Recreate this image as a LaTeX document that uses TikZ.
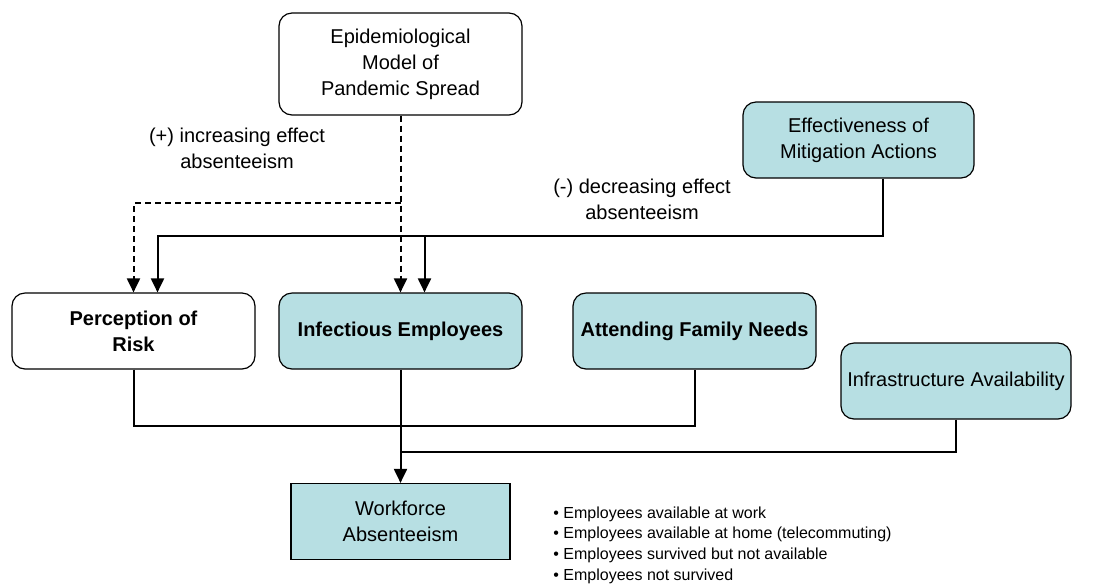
\documentclass[tikz,border=0pt]{standalone}
\usepackage{fontspec}
\setmainfont{Liberation Sans}
\usepackage{xcolor}
\usepackage{tikz}
\usetikzlibrary{arrows.meta}

\definecolor{teal box}{RGB}{183,223,227}

\begin{document}
\begin{tikzpicture}[x=0.5pt,y=0.5pt,yscale=-1,
  basebox/.style={draw, line width=0.6pt, align=center, inner sep=0pt,
    font=\fontsize{10}{13}\selectfont, minimum width=121.5pt, minimum height=38pt},
  roundbox/.style={basebox, rounded corners=6.5pt},
  tealbox/.style={roundbox, fill=teal box},
  feedline/.style={line width=1pt},
  feedarrow/.style={feedline, -{Triangle[width=6.5pt,length=7pt]}},
  spreadline/.style={line width=1pt, dash pattern=on 3pt off 2pt},
  spreadarrow/.style={spreadline, -{Triangle[width=6.5pt,length=7pt]}}]
\useasboundingbox (0,0) rectangle (1100,586);

%Shape: Rounded Rect [id:epid] 
\node[roundbox, minimum height=51pt] (epid) at (400.5,64) {Epidemiological\\Model of\\Pandemic Spread};
%Shape: Rounded Rect [id:effect] 
\node[tealbox, minimum width=115.5pt] (effect) at (858.5,140) {Effectiveness of\\Mitigation Actions};
%Shape: Rounded Rect [id:risk] 
\node[roundbox, font=\fontsize{10}{13}\selectfont\bfseries] (risk) at (133.5,331) {Perception of\\Risk};
%Shape: Rounded Rect [id:infect] 
\node[tealbox, font=\fontsize{10}{13}\selectfont\bfseries] (infect) at (400.5,331) {Infectious Employees};
%Shape: Rounded Rect [id:family] 
\node[tealbox, font=\fontsize{10}{13}\selectfont\bfseries] (family) at (694.5,331) {Attending Family Needs};
%Shape: Rounded Rect [id:infra] 
\node[tealbox, minimum width=115pt] (infra) at (956,381) {Infrastructure Availability};
%Shape: Rectangle [id:work] 
\node[basebox, fill=teal box, minimum width=109.5pt] (work) at (400.5,521.5) {Workforce\\Absenteeism};

% Text Node
\node[font=\fontsize{10}{13}\selectfont, align=center] (poslabel) at (237,148) {(+) increasing effect\\absenteeism};
% Text Node
\node[font=\fontsize{10}{13}\selectfont, align=center] (neglabel) at (642,199) {(-) decreasing effect\\absenteeism};
% Text Node
\node[font=\fontsize{8}{10.35}\selectfont, align=left, anchor=west, inner sep=0pt] (states) at (553,545)
  {• Employees available at work\\
   • Employees available at home (telecommuting)\\
   • Employees survived but not available\\
   • Employees not survived};

% joints
\coordinate (dsplit) at (400.5,203);
\coordinate (mitig) at (883,236);
\coordinate (merge) at (400.5,426);
\coordinate (infrajoin) at (400.5,452);

% dashed: pandemic spread
\draw[spreadarrow] (epid.south) -- (infect.north);
\draw[spreadarrow] (dsplit) -| (risk.north);

% solid: mitigation
\draw[feedarrow] (effect.south -| mitig) -- (mitig) -| ([xshift=12pt]risk.north);
\draw[feedarrow] ([xshift=12pt]infect.north |- mitig) -- ([xshift=12pt]infect.north);

% into absenteeism
\draw[feedline] (risk.south) |- (merge) -| (family.south);
\draw[feedline] (infra.south) |- (infrajoin);
\draw[feedarrow] (infect.south) -- (work.north);

\end{tikzpicture}
\end{document}
